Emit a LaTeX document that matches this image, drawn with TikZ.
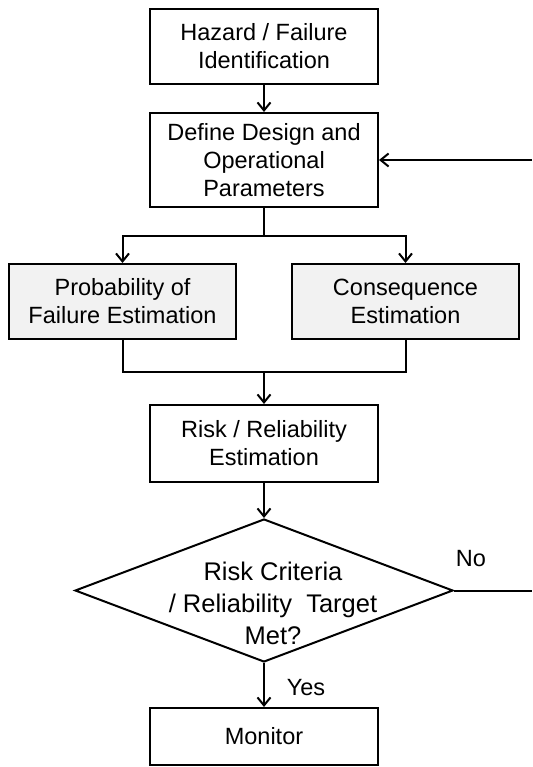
\documentclass[tikz,border=0pt]{standalone}
\usepackage{fontspec}
\setmainfont{Liberation Sans}
\usetikzlibrary{shapes.geometric,arrows.meta}
\definecolor{boxgray}{HTML}{F2F2F2}
\tikzset{
  box/.style={draw=black, line width=2pt, rectangle, inner sep=0pt, align=center,
    font=\fontsize{23.5}{28}\selectfont, minimum width=228pt},
  graybox/.style={box, fill=boxgray, minimum width=227pt, minimum height=75pt},
  decision/.style={draw=black, line width=2pt, diamond, inner sep=0pt,
    minimum width=378pt, minimum height=143pt},
  lbl/.style={font=\fontsize{23.5}{28}\selectfont, inner sep=0pt},
  conn/.style={line width=2pt, draw=black},
  arr/.style={conn, -{Straight Barb[length=8pt,width=13pt,line width=2pt]}}
}
\begin{document}
\begin{tikzpicture}[x=1pt,y=-1pt]
\useasboundingbox[fill=white] (0,0) rectangle (532,767);
\node[box, minimum height=75pt] (haz) at (264,46.5) {Hazard / Failure\\Identification};
\node[box, minimum height=94pt] (def) at (264,160) {Define Design and\\Operational\\Parameters};
\node[graybox] (pof) at (122.5,301.5) {Probability of\\Failure Estimation};
\node[graybox] (con) at (405.5,301.5) {Consequence\\Estimation};
\node[box, minimum height=77pt] (risk) at (264,443.5) {Risk / Reliability\\Estimation};
\node[decision] (dec) at (264,590.5) {};
\node[align=center, inner sep=0pt, font=\fontsize{25.5}{32}\selectfont] (dtext) at (273,603) {Risk Criteria\\/ Reliability\ \ Target\\Met?};
\node[box, minimum height=57pt] (mon) at (264,736.5) {Monitor};
\node[lbl] (no) at (471,559) {No};
\node[lbl] (yes) at (306,688) {Yes};
\coordinate (split) at (264,236);
\coordinate (merge) at (264,372);
\coordinate (noend) at (532,590.5);
\coordinate (fbstart) at (532,160);
\draw[arr] (haz.south) -- (def.north);
\draw[conn] (def.south) -- (split);
\draw[arr] (split) -| (pof.north);
\draw[arr] (split) -| (con.north);
\draw[conn] (pof.south) |- (merge) -| (con.south);
\draw[arr] (merge) -- (risk.north);
\draw[arr] (risk.south) -- (dec.north);
\draw[arr] (dec.south) -- (mon.north);
\draw[conn] (dec.east) -- (noend);
\draw[arr] (fbstart) -- (def.east);
\end{tikzpicture}
\end{document}
